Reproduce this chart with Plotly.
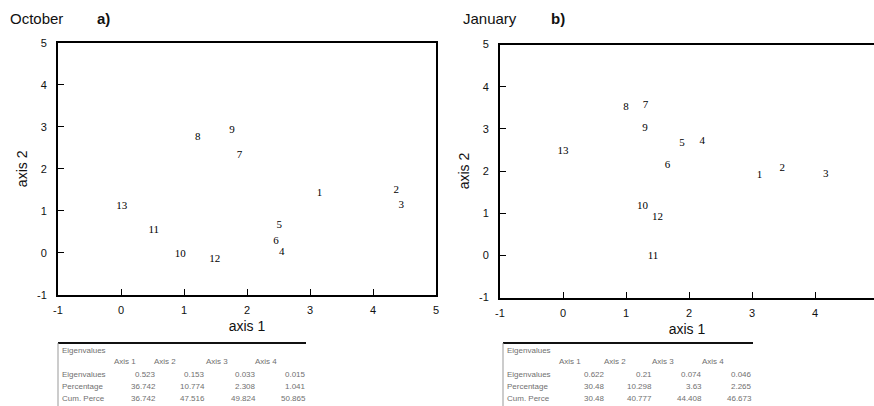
import plotly.graph_objects as go

W, H = 874, 406

# ---- data ----
labels = [str(i) for i in range(1, 14)]
oct_x = [3.15, 4.37, 4.45, 2.55, 2.51, 2.46, 1.88, 1.22, 1.76, 0.94, 0.52, 1.49, 0.01]
oct_y = [1.42, 1.48, 1.13, 0.01, 0.65, 0.28, 2.32, 2.74, 2.92, -0.02, 0.55, -0.14, 1.10]
jan_x = [3.12, 3.48, 4.17, 2.21, 1.89, 1.66, 1.31, 1.00, 1.30, 1.26, 1.43, 1.50, 0.00]
jan_y = [1.89, 2.06, 1.93, 2.71, 2.65, 2.13, 3.56, 3.52, 3.01, 1.17, -0.01, 0.90, 2.46]

tick_vals = [-1, 0, 1, 2, 3, 4, 5]
tick_text = ["-1", "0", "1", "2", "3", "4", "5"]

table_cols = ["Axis 1", "Axis 2", "Axis 3", "Axis 4"]
table_rows = ["Eigenvalues", "Percentage", "Cum. Perce"]
oct_table = [["0.523", "0.153", "0.033", "0.015"],
             ["36.742", "10.774", "2.308", "1.041"],
             ["36.742", "47.516", "49.824", "50.865"]]
jan_table = [["0.622", "0.21", "0.074", "0.046"],
             ["30.48", "10.298", "3.63", "2.265"],
             ["30.48", "40.777", "44.408", "46.673"]]


def px(x):
    return x / W


def py(y):
    return 1 - y / H


fig = go.Figure()
text_font = dict(family="Liberation Serif, Times New Roman, serif", size=11, color="#000")
fig.add_trace(go.Scatter(x=oct_x, y=oct_y, text=labels, mode="text",
                         textfont=text_font, xaxis="x", yaxis="y",
                         showlegend=False, hoverinfo="x+y+text"))
fig.add_trace(go.Scatter(x=jan_x, y=jan_y, text=labels, mode="text",
                         textfont=text_font, xaxis="x2", yaxis="y2",
                         showlegend=False, hoverinfo="x+y+text"))

tick_font = dict(family="Liberation Sans, Arial, sans-serif", size=11, color="#111")
title_font = dict(family="Liberation Sans, Arial, sans-serif", size=14, color="#111")


def axis(domain, rng, anchor, title, standoff):
    return dict(domain=domain, range=rng, anchor=anchor, tickvals=tick_vals,
                ticktext=tick_text,
                showgrid=False, zeroline=False, showline=True, linecolor="#000",
                linewidth=2, mirror=True, ticks="inside", ticklen=6, tickwidth=1,
                tickcolor="#000", tickfont=tick_font, automargin=False,
                title=dict(text=title, font=title_font, standoff=standoff),
                fixedrange=True)


fig.update_layout(
    width=W, height=H,
    margin=dict(l=0, r=0, t=0, b=0),
    paper_bgcolor="white", plot_bgcolor="white",
    xaxis=axis([px(58), px(436)], [-1, 5], "y", "axis 1", 6),
    yaxis=axis([py(295), py(42.7)], [-1, 5], "x", "axis 2", 6),
    xaxis2=axis([px(500), 1.0], [-1, -1 + (W - 500) / 63.0], "y2", "axis 1", 6),
    yaxis2=axis([py(297.5), py(44.5)], [-1, 5], "x2", "axis 2", 6),
)
fig.update_xaxes(ticklabelstandoff=4)
fig.update_yaxes(ticklabelstandoff=7)

title_f = dict(family="Liberation Sans, Arial, sans-serif", size=15, color="#111")
anns = [
    dict(x=px(9), y=py(18), text="October", xanchor="left", yanchor="middle", font=title_f),
    dict(x=px(96), y=py(18), text="<b>a)</b>", xanchor="left", yanchor="middle", font=title_f),
    dict(x=px(462), y=py(18), text="January", xanchor="left", yanchor="middle", font=title_f),
    dict(x=px(550), y=py(18), text="<b>b)</b>", xanchor="left", yanchor="middle", font=title_f),
]

shapes = []
tab_font = dict(family="Liberation Sans, Arial, sans-serif", size=8, color="#707070")


def add_table(x0, x1, col_centers, val_rights, vals):
    shapes.append(dict(type="line", xref="paper", yref="paper",
                       x0=px(x0), x1=px(x1), y0=py(343), y1=py(343),
                       line=dict(color="#111", width=2)))
    shapes.append(dict(type="line", xref="paper", yref="paper",
                       x0=px(x0), x1=px(x0), y0=py(343), y1=py(406),
                       line=dict(color="#999", width=1)))
    anns.append(dict(x=px(x0 + 3), y=py(350), text="Eigenvalues", xanchor="left",
                     yanchor="middle", font=tab_font))
    for c, name in zip(col_centers, table_cols):
        anns.append(dict(x=px(c), y=py(361.7), text=name, xanchor="center",
                         yanchor="middle", font=tab_font))
    for r, (rname, row) in enumerate(zip(table_rows, vals)):
        yy = 374.5 + r * 12
        anns.append(dict(x=px(x0 + 3), y=py(yy), text=rname, xanchor="left",
                         yanchor="middle", font=tab_font))
        for xr, v in zip(val_rights, row):
            anns.append(dict(x=px(xr), y=py(yy), text=v, xanchor="right",
                             yanchor="middle", font=tab_font))


add_table(58, 306, [125, 165, 217, 266], [157, 206, 257, 307], oct_table)
add_table(503, 753, [570, 615, 663, 713], [606, 653, 703, 753], jan_table)

for a in anns:
    a.setdefault("xref", "paper")
    a.setdefault("yref", "paper")
    a.setdefault("showarrow", False)
    a.setdefault("borderpad", 0)

fig.update_layout(annotations=anns, shapes=shapes)
fig.write_html("out.html")
